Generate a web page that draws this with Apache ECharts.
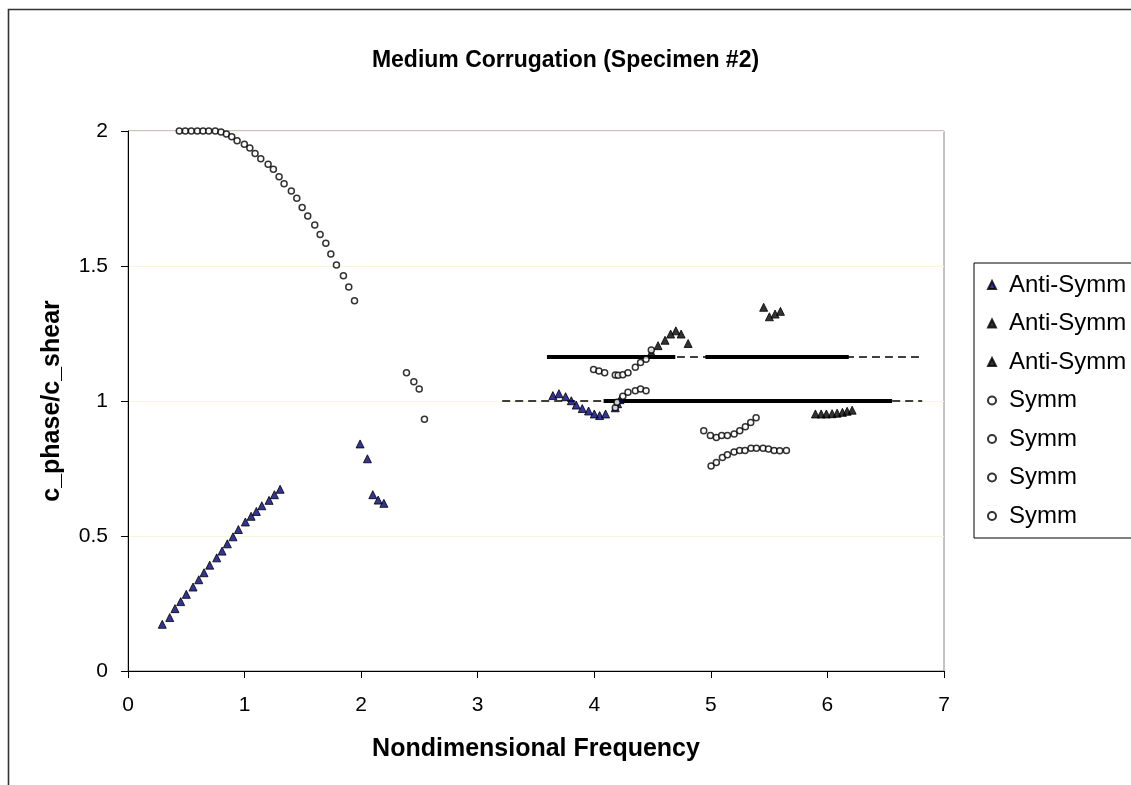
<!DOCTYPE html>
<html>
<head>
<meta charset="utf-8">
<script src="https://cdn.jsdelivr.net/npm/echarts@6/dist/echarts.min.js"></script>
<style>
html,body{margin:0;padding:0;background:#fff}
#chart{width:1131px;height:785px}
</style>
</head>
<body>
<div id="chart"></div>
<script>
// anti-symmetric branch (navy triangles)
let antiNavy = [
    [0.294,0.173],[0.358,0.198],[0.403,0.231],[0.452,0.257],[0.500,0.284],[0.558,0.311],[0.607,0.338],
    [0.652,0.364],[0.701,0.392],[0.761,0.419],[0.807,0.444],[0.852,0.471],[0.901,0.497],[0.947,0.524],
    [1.007,0.552],[1.056,0.573],[1.101,0.591],[1.148,0.612],[1.210,0.632],[1.256,0.653],[1.305,0.673],
    [1.991,0.841],[2.054,0.786],[2.100,0.653],[2.146,0.633],[2.195,0.621],
    [3.645,1.020],[3.697,1.027],[3.754,1.016],[3.803,1.001],[3.845,0.985],[3.897,0.972],[3.951,0.963],
    [4.000,0.952],[4.046,0.946],[4.097,0.952],
    [4.180,0.975],[4.200,0.990],[4.220,1.005]
]
// anti-symmetric, black triangles
let antiBlackA = [
    [4.490,1.180],[4.547,1.205],[4.607,1.225],[4.655,1.248],[4.700,1.260],[4.745,1.248],[4.805,1.213],
    [5.453,1.347],[5.502,1.312],[5.551,1.322],[5.597,1.332]
]
let antiBlackB = [
    [5.897,0.952],[5.946,0.952],[5.991,0.952],[6.040,0.953],[6.083,0.955],[6.129,0.958],[6.169,0.962],[6.212,0.966]
]
// symmetric branches (open circles)
let symmA = [
    [0.440,2.0],[0.492,2.0],[0.543,2.0],[0.595,2.0],[0.644,2.0],[0.693,2.0],[0.749,2.0],[0.798,1.996],
    [0.844,1.989],[0.890,1.979],[0.936,1.964],[0.998,1.951],[1.045,1.937],[1.090,1.917],[1.139,1.897],
    [1.202,1.877],[1.247,1.858],[1.296,1.831],[1.339,1.805],[1.401,1.778],[1.448,1.751],[1.494,1.717],
    [1.542,1.685],[1.602,1.652],[1.648,1.617],[1.697,1.584],[1.740,1.544],[1.788,1.504],[1.848,1.464],
    [1.894,1.422],[1.943,1.371],
    [2.389,1.105],[2.452,1.071],[2.498,1.044],[2.543,0.932]
]
let symmB = [
    [3.994,1.117],[4.040,1.111],[4.089,1.105],[4.180,1.096],[4.205,1.095],[4.245,1.097],[4.289,1.105],
    [4.352,1.125],[4.397,1.143],[4.444,1.155],[4.489,1.189]
]
let symmC = [
    [4.180,0.975],[4.195,0.995],[4.245,1.018],[4.289,1.032],[4.352,1.038],[4.397,1.044],[4.444,1.038]
]
let symmD = [
    [4.939,0.890],[4.996,0.872],[5.047,0.865],[5.093,0.872],[5.142,0.872],[5.200,0.878],[5.248,0.890],
    [5.296,0.905],[5.342,0.920],[5.388,0.938],
    [5.002,0.759],[5.047,0.772],[5.099,0.791],[5.142,0.801],[5.199,0.811],[5.247,0.817],[5.293,0.817],
    [5.345,0.825],[5.391,0.825],[5.448,0.825],[5.494,0.822],[5.543,0.817],[5.591,0.816],[5.648,0.817]
]
// reference levels
let upperDashed = [[3.594,1.163],[6.813,1.163]]
let upperSolid1 = [[3.594,1.163],[4.695,1.163]]
let upperSolid2 = [[4.953,1.163],[6.183,1.163]]
let lowerDashed = [[3.21,1.0],[6.813,1.0]]
let lowerSolid = [[4.08,1.0],[6.555,1.0]]

let xTicks = [0,1,2,3,4,5,6,7]
let yTicks = [0,0.5,1,1.5,2]

let chart = echarts.init(document.getElementById("chart"))
const FONT = "Liberation Sans, Arial, sans-serif"

function triSeries(name,data,fill){
    return {
        name:name,type:"scatter",data:data,symbol:"triangle",symbolSize:8,z:4,
        itemStyle:{color:fill,borderColor:"#000",borderWidth:1}
    }
}
function circSeries(name,data){
    return {
        name:name,type:"scatter",data:data,symbol:"circle",symbolSize:6,z:5,
        itemStyle:{color:"#fff",borderColor:"#000",borderWidth:1.5}
    }
}
function lineSeries(name,data,width,dashed){
    return {
        name:name,type:"line",data:data,symbol:"none",z:2,silent:true,
        lineStyle:{color:"#000",width:width,type:dashed?[8,5]:"solid"}
    }
}

let legendNames = ["Anti-Symm 1","Anti-Symm 2","Anti-Symm 3","Symm 1","Symm 2","Symm 3","Symm 4"]

chart.setOption({
    animation:false,
    backgroundColor:"#fff",
    title:{
        text:"Medium Corrugation (Specimen #2)",
        left:"center",top:44,
        textStyle:{fontFamily:FONT,fontSize:23,fontWeight:"bold",color:"#000"}
    },
    graphic:[{
        type:"rect",left:6,top:7,silent:true,
        shape:{width:1200,height:900},
        style:{fill:"none",stroke:"#333",lineWidth:1.6}
    }],
    grid:{left:128,top:131,right:187,bottom:114,show:true,borderColor:"#888",borderWidth:1,backgroundColor:"#fff"},
    legend:{
        data:legendNames,
        orient:"vertical",left:974,top:263,
        itemWidth:8,itemHeight:8,itemGap:12.5,
        padding:[9,60,9,13],
        borderColor:"#000",borderWidth:1,backgroundColor:"#fff",
        formatter:n=>n.replace(/ \d$/,""),
        textStyle:{fontFamily:FONT,fontSize:24,lineHeight:26,color:"#000",padding:[0,0,0,8]}
    },
    xAxis:{
        type:"value",min:0,max:7,interval:1,
        name:"Nondimensional Frequency",nameLocation:"middle",nameGap:66,
        nameTextStyle:{fontFamily:FONT,fontSize:25,fontWeight:"bold",color:"#000"},
        axisLine:{show:true,lineStyle:{color:"#000",width:1}},
        axisTick:{show:true,length:7,lineStyle:{color:"#000"}},
        axisLabel:{fontFamily:FONT,fontSize:21,color:"#000",margin:24,
            formatter:v=>xTicks.includes(v)?String(v):""},
        splitLine:{show:false}
    },
    yAxis:{
        type:"value",min:0,max:2,interval:0.5,
        name:"c_phase/c_shear",nameLocation:"middle",nameGap:63,
        nameTextStyle:{fontFamily:FONT,fontSize:25,fontWeight:"bold",color:"#000"},
        axisLine:{show:true,lineStyle:{color:"#000",width:1}},
        axisTick:{show:true,length:7,lineStyle:{color:"#000"}},
        axisLabel:{fontFamily:FONT,fontSize:21,color:"#000",margin:20,
            formatter:v=>yTicks.includes(v)?String(v):""},
        splitLine:{show:true,lineStyle:{color:"#f8f6d8",width:1}}
    },
    series:[
        lineSeries("upperDashed",upperDashed,1.5,true),
        lineSeries("lowerDashed",lowerDashed,1.5,true),
        lineSeries("upperSolid1",upperSolid1,4,false),
        lineSeries("upperSolid2",upperSolid2,4,false),
        lineSeries("lowerSolid",lowerSolid,4,false),
        triSeries("Anti-Symm 1",antiNavy,"#000080"),
        triSeries("Anti-Symm 2",antiBlackA,"#000"),
        triSeries("Anti-Symm 3",antiBlackB,"#000"),
        circSeries("Symm 1",symmA),
        circSeries("Symm 2",symmB),
        circSeries("Symm 3",symmC),
        circSeries("Symm 4",symmD)
    ]
})
</script>
</body>
</html>
